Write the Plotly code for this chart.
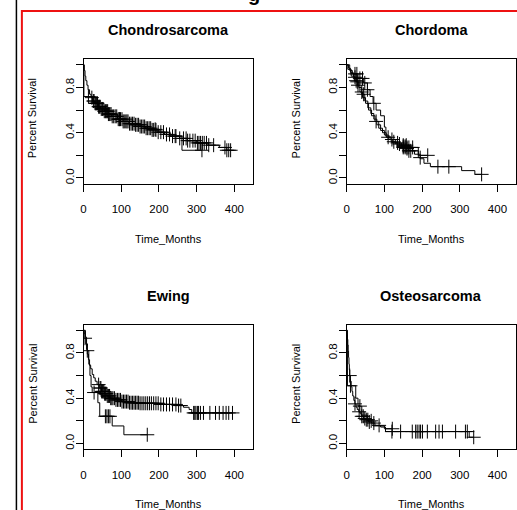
import numpy as np
import plotly.graph_objects as go

W, H = 517, 510

panel_titles = ["Chondrosarcoma", "Chordoma", "Ewing", "Osteosarcoma"]
x_ticks = [0, 100, 200, 300, 400]
x_tick_labels = ["0", "100", "200", "300", "400"]
y_ticks = [0.0, 0.2, 0.4, 0.6, 0.8, 1.0]
y_tick_labels = ["0.0", "", "0.4", "", "0.8", ""]
x_title = "Time_Months"
y_title = "Percent Survival"

# ---- Chondrosarcoma ----
chondro_a_t = [0, 2, 4, 6, 9, 12, 16, 20, 25, 30, 38, 45, 55, 65, 75, 90, 105, 120, 135, 150,
               165, 180, 195, 215, 235, 255, 275, 300, 330, 360, 380]
chondro_a_s = [1.0, 0.95, 0.9, 0.86, 0.82, 0.78, 0.74, 0.71, 0.68, 0.66, 0.63, 0.61, 0.59, 0.565,
               0.545, 0.52, 0.50, 0.48, 0.47, 0.455, 0.44, 0.425, 0.405, 0.385, 0.37, 0.35, 0.33,
               0.31, 0.29, 0.27, 0.245]
chondro_a_c = [22, 26, 28, 31, 33, 35, 37, 40, 42, 44, 47, 50, 52, 55, 58, 60, 62, 64, 66, 68, 70,
               73, 76, 80, 84, 88, 92, 95, 98, 102, 105, 108, 112, 115, 118, 122, 126, 130, 134,
               138, 142, 146, 150, 154, 158, 162, 166, 170, 174, 178, 182, 186, 192, 198, 205,
               212, 220, 228, 236, 245, 255, 265, 272, 276, 282, 290, 296, 302, 306, 310, 315,
               320, 326, 332, 345, 375, 380, 385, 390]
chondro_b_t = [0, 1, 24, 40, 60, 90, 130, 170, 200, 230, 261]
chondro_b_s = [1.0, 0.72, 0.665, 0.62, 0.565, 0.52, 0.47, 0.43, 0.40, 0.37, 0.245]
chondro_b_c = [13, 95, 190, 243, 314]

# ---- Chordoma ----
chordoma_a_t = [0, 5, 10, 18, 25, 32, 40, 48, 56, 64, 72, 80, 90, 100, 110, 122, 135, 150, 165,
                180, 195, 205, 222, 305, 340]
chordoma_a_s = [1.0, 0.97, 0.93, 0.89, 0.85, 0.80, 0.74, 0.68, 0.62, 0.57, 0.52, 0.47, 0.42, 0.38,
                0.34, 0.31, 0.29, 0.27, 0.24, 0.21, 0.17, 0.13, 0.10, 0.065, 0.032]
chordoma_a_c = [22, 28, 45, 150, 155, 160, 165, 170, 242, 271, 358]
chordoma_b_t = [0, 8, 15, 30, 45, 55, 62, 70, 78, 90, 100, 104, 115, 130, 145, 165, 190]
chordoma_b_s = [1.0, 0.95, 0.92, 0.88, 0.84, 0.78, 0.72, 0.66, 0.60, 0.55, 0.45, 0.37, 0.34,
                0.31, 0.29, 0.27, 0.20]
chordoma_b_c = [22, 27, 35, 42, 48, 55, 72, 120, 135, 150, 158, 165, 175, 215]
chordoma_c_t = [0, 3, 12, 20, 28, 35, 42, 50, 58, 66, 75, 85, 95, 105, 118, 130, 145, 160, 175, 190]
chordoma_c_s = [1.0, 0.96, 0.90, 0.86, 0.82, 0.76, 0.71, 0.66, 0.60, 0.55, 0.50, 0.44, 0.40,
                0.36, 0.32, 0.30, 0.28, 0.26, 0.24, 0.18]
chordoma_c_c = [25, 30, 40, 78, 110, 125, 140, 150, 155, 160, 195]

# ---- Ewing ----
ewing_a_t = [0, 2, 4, 6, 8, 10, 13, 16, 19, 23, 27, 31, 36, 42, 48, 55, 62, 70, 85, 100, 120,
             150, 200, 250, 265, 280, 287]
ewing_a_s = [1.0, 0.97, 0.93, 0.88, 0.83, 0.79, 0.74, 0.69, 0.66, 0.61, 0.58, 0.55, 0.52, 0.49,
             0.46, 0.44, 0.42, 0.40, 0.385, 0.37, 0.36, 0.355, 0.345, 0.335, 0.32, 0.30, 0.27]
ewing_a_c = [4, 40, 44, 46, 48, 50, 52, 54, 56, 58, 60, 63, 66, 69, 72, 75, 78, 82, 86, 90, 94,
             98, 102, 106, 110, 114, 118, 122, 126, 130, 134, 138, 142, 146, 150, 155, 160, 165,
             170, 175, 180, 186, 192, 198, 205, 212, 220, 228, 236, 245, 252, 258, 292, 295,
             298, 302, 305, 310, 318, 335, 350, 360, 370, 378, 385, 395]
ewing_b_t = [0, 5, 8, 10, 14, 17, 20, 23, 38, 43, 76, 107]
ewing_b_s = [1.0, 0.94, 0.88, 0.82, 0.70, 0.60, 0.50, 0.45, 0.36, 0.24, 0.155, 0.077]
ewing_b_c = [10, 28, 58, 62, 66, 70, 169]

# ---- Osteosarcoma ----
osteo_a_t = [0, 1, 2, 3, 4, 5, 6, 7, 8, 10, 12, 14, 16, 19, 22, 25, 28, 32, 36, 40, 45, 50, 58,
             66, 75, 90, 103, 325]
osteo_a_s = [1.0, 0.96, 0.92, 0.87, 0.82, 0.76, 0.70, 0.65, 0.60, 0.55, 0.50, 0.46, 0.42, 0.38,
             0.35, 0.32, 0.30, 0.28, 0.26, 0.24, 0.22, 0.21, 0.19, 0.18, 0.16, 0.145, 0.105, 0.055]
osteo_a_c = [8, 22, 33, 40, 44, 48, 52, 56, 60, 72, 86, 120, 143, 174, 183, 187, 192, 196, 201,
             214, 236, 245, 254, 289, 315, 320, 337]
osteo_b_t = [0, 2, 24, 30, 40, 55, 70, 100]
osteo_b_s = [1.0, 0.51, 0.40, 0.33, 0.25, 0.20, 0.155, 0.13]
osteo_b_c = [10, 35, 65, 121]

panels = [
    [(chondro_a_t, chondro_a_s, chondro_a_c), (chondro_b_t, chondro_b_s, chondro_b_c)],
    [(chordoma_a_t, chordoma_a_s, chordoma_a_c), (chordoma_b_t, chordoma_b_s, chordoma_b_c),
     (chordoma_c_t, chordoma_c_s, chordoma_c_c)],
    [(ewing_a_t, ewing_a_s, ewing_a_c), (ewing_b_t, ewing_b_s, ewing_b_c)],
    [(osteo_a_t, osteo_a_s, osteo_a_c), (osteo_b_t, osteo_b_s, osteo_b_c)],
]

# pixel boxes of the plotting regions: (left, top, right, bottom)
boxes = [(81, 59.3, 251.7, 184), (345.7, 59.3, 516.3, 184),
         (81, 325.3, 251.7, 450), (345.7, 325.3, 516.3, 450)]

FONT = "Liberation Sans, Arial, sans-serif"

fig = go.Figure()


def step_at(times, surv, c):
    times = np.asarray(times, float)
    i = np.searchsorted(times, c, side="right") - 1
    return surv[i]


for k, curves in enumerate(panels):
    xa = "x" if k == 0 else f"x{k+1}"
    ya = "y" if k == 0 else f"y{k+1}"
    for times, surv, cens in curves:
        end = max(max(cens), max(times))
        xs = list(times) + [end]
        ys = list(surv) + [surv[-1]]
        fig.add_trace(go.Scatter(x=xs, y=ys, mode="lines", line=dict(color="black", width=1, shape="hv"),
                                 xaxis=xa, yaxis=ya, showlegend=False, hoverinfo="skip"))
        cy = [step_at(times, surv, c) for c in cens]
        fig.add_trace(go.Scatter(x=cens, y=cy, mode="markers",
                                 marker=dict(symbol="cross-thin", size=10, color="black",
                                             line=dict(color="black", width=1)),
                                 xaxis=xa, yaxis=ya, showlegend=False, hoverinfo="skip"))

layout = dict(width=W, height=H, margin=dict(l=0, r=0, t=0, b=0),
              paper_bgcolor="white", plot_bgcolor="white", showlegend=False,
              font=dict(family=FONT, color="black", size=11))

annotations = []
for k, (l, t, r, b) in enumerate(boxes):
    xname = "xaxis" if k == 0 else f"xaxis{k+1}"
    yname = "yaxis" if k == 0 else f"yaxis{k+1}"
    xa = "x" if k == 0 else f"x{k+1}"
    ya = "y" if k == 0 else f"y{k+1}"
    layout[xname] = dict(domain=[l / W, r / W], range=[0, 450], anchor=ya,
                         tickvals=x_ticks, ticktext=x_tick_labels, ticks="outside", ticklen=7,
                         tickcolor="black", tickwidth=1, showline=True, mirror=True,
                         linecolor="black", linewidth=1, showgrid=False, zeroline=False,
                         tickfont=dict(size=11.5, family=FONT, color="black"),
                         ticklabelstandoff=8, fixedrange=True)
    layout[yname] = dict(domain=[1 - b / H, 1 - t / H], range=[-0.05, 1.05], anchor=xa,
                         tickvals=y_ticks, ticktext=y_tick_labels, ticks="outside", ticklen=7,
                         tickcolor="black", tickwidth=1, showline=True, mirror=True,
                         linecolor="black", linewidth=1, showgrid=False, zeroline=False,
                         tickangle=-90, tickfont=dict(size=11.5, family=FONT, color="black"),
                         ticklabelstandoff=-3, fixedrange=True)
    cx = (l + r) / 2
    cyb = (t + b) / 2 - 3
    annotations.append(dict(text="<b>" + panel_titles[k] + "</b>", x=cx / W, y=1 - (t - 29) / H,
                            xref="paper", yref="paper", showarrow=False, xanchor="center",
                            yanchor="middle", font=dict(size=14.5, family=FONT, color="black")))
    annotations.append(dict(text=x_title, x=cx / W, y=1 - (b + 55) / H, xref="paper", yref="paper",
                            showarrow=False, xanchor="center", yanchor="middle",
                            font=dict(size=11, family=FONT, color="black")))
    annotations.append(dict(text=y_title, x=(l - 51) / W, y=1 - cyb / H, xref="paper", yref="paper",
                            showarrow=False, xanchor="center", yanchor="middle", textangle=-90,
                            font=dict(size=11, family=FONT, color="black")))

# fragment of an outer title cut off at the top edge
annotations.append(dict(text="<b>g</b>", x=252.5 / W, y=1 - 7 / H, xref="paper", yref="paper",
                        showarrow=False, xanchor="center", yanchor="bottom",
                        font=dict(size=20, family=FONT, color="black")))
layout["annotations"] = annotations

layout["shapes"] = [
    dict(type="line", xref="paper", yref="paper", x0=13.5 / W, x1=13.5 / W, y0=-0.02, y1=1.02,
         line=dict(color="black", width=1.5)),
    dict(type="rect", xref="paper", yref="paper", x0=19 / W, x1=1.05, y0=-0.05, y1=1 - 11 / H,
         line=dict(color="#ee1111", width=2)),
]

fig.update_layout(**layout)
fig.write_html("out.html", config={"displayModeBar": False},
               post_script="document.body.style.margin='0px';document.body.style.overflow='hidden';")
